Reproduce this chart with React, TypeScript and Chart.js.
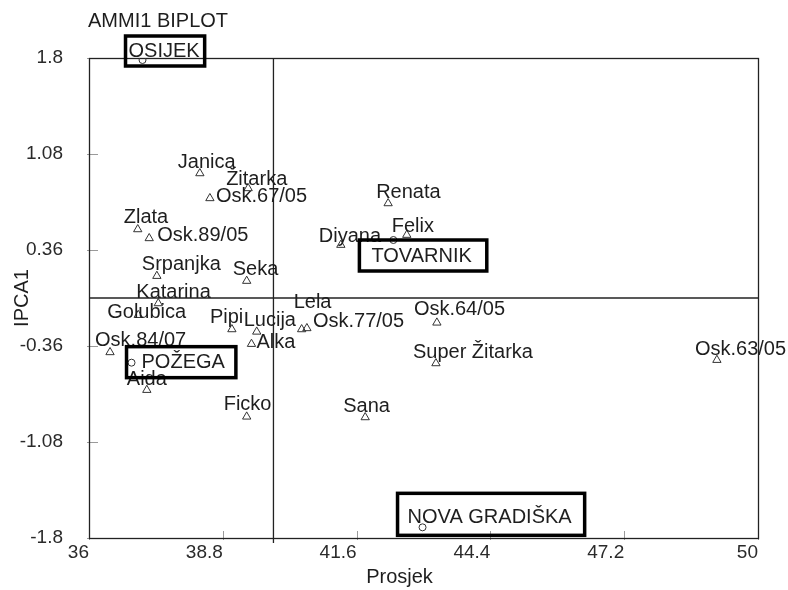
import React, { useEffect, useRef } from "react";
import { Chart, registerables } from "chart.js";

Chart.register(...registerables);

// ---------- data ----------
const TITLE = "AMMI1 BIPLOT";
const X_TITLE = "Prosjek";
const Y_TITLE = "IPCA1";
const X_TICKS = [36, 38.8, 41.6, 44.4, 47.2, 50];
const X_TICK_LABELS = ["36", "38.8", "41.6", "44.4", "47.2", "50"];
const Y_TICKS = [-1.8, -1.08, -0.36, 0.36, 1.08, 1.8];
const Y_TICK_LABELS = ["-1.8", "-1.08", "-0.36", "0.36", "1.08", "1.8"];

const GENOTYPES = [
  "Janica", "Žitarka", "Osk.67/05", "Zlata", "Osk.89/05", "Diyana", "Srpanjka", "Seka",
  "Renata", "Felix", "Katarina", "Golubica", "Osk.84/07", "Aida", "Pipi", "Lucija",
  "Alka", "Lela", "Osk.77/05", "Ficko", "Sana", "Osk.64/05", "Super Žitarka", "Osk.63/05",
];
const GENOTYPE_MEAN = [
  38.32, 39.33, 38.53, 37.02, 37.26, 41.27, 37.42, 39.30,
  42.26, 42.65, 37.45, 37.03, 36.44, 37.21, 38.99, 39.51,
  39.40, 40.45, 40.56, 39.30, 41.78, 43.28, 43.26, 49.14,
];
const GENOTYPE_IPCA1 = [
  0.935, 0.823, 0.748, 0.515, 0.448, 0.398, 0.165, 0.128,
  0.710, 0.473, -0.040, -0.128, -0.407, -0.690, -0.235, -0.253,
  -0.345, -0.235, -0.227, -0.890, -0.895, -0.185, -0.490, -0.465,
];

const ENVIRONMENTS = ["OSIJEK", "TOVARNIK", "POŽEGA", "NOVA GRADIŠKA"];
const ENV_MEAN = [37.12, 42.37, 36.89, 42.98];
const ENV_IPCA1 = [1.785, 0.435, -0.485, -1.72];

const GRAND_MEAN = 39.86;
const AXIS_MIN_X = 36, AXIS_MAX_X = 50, AXIS_MIN_Y = -1.8, AXIS_MAX_Y = 1.8;

// ---------- label layout (pixel offsets from marker centre to text left / baseline) ----------
const GENO_LABEL_OFFSET: Record<string, [number, number]> = {
  "Janica": [-22, -5], "Žitarka": [-22, -3], "Osk.67/05": [6, 4], "Zlata": [-14, -6],
  "Osk.89/05": [8, 3], "Diyana": [-22, -3], "Srpanjka": [-15, -6], "Seka": [-14, -6],
  "Renata": [-12, -5], "Felix": [-15, -3], "Katarina": [-22, -5], "Golubica": [-31, 3],
  "Osk.84/07": [-15, -6], "Aida": [-20, -5], "Pipi": [-22, -6], "Lucija": [-13, -6],
  "Alka": [5, 4], "Lela": [-8, -21], "Osk.77/05": [6, -1], "Ficko": [-23, -7],
  "Sana": [-22, -5], "Osk.64/05": [-23, -8], "Super Žitarka": [-23, -5], "Osk.63/05": [-22, -5],
};
// text offset [dx, dy] and box padding [left, right, above baseline, below baseline]
const ENV_LABEL_LAYOUT: Record<string, { text: [number, number]; pad: [number, number, number, number] }> = {
  "OSIJEK": { text: [-14, -3], pad: [3, 5, 21, 9] },
  "TOVARNIK": { text: [-22, 22], pad: [12, 15, 22, 9] },
  "POŽEGA": { text: [10, 5], pad: [15, 11, 21, 10] },
  "NOVA GRADIŠKA": { text: [-15, -4], pad: [10, 13, 30, 12] },
};

const FONT = '"Liberation Sans", Arial, sans-serif';
const TEXT_COLOR = "#1e1e1e";

const annotatePlugin = {
  id: "annotate",
  beforeDatasetsDraw(chart: any) {
    const { ctx, chartArea: a, scales } = chart;
    ctx.save();
    // faint inward tick marks
    ctx.strokeStyle = "#9a9a9a";
    ctx.lineWidth = 1;
    for (const v of Y_TICKS) {
      const y = Math.round(scales.y.getPixelForValue(v)) + 0.5;
      ctx.beginPath();
      ctx.moveTo(a.left - 2, y);
      ctx.lineTo(a.left + 9, y);
      ctx.stroke();
    }
    for (const v of X_TICKS) {
      const x = Math.round(scales.x.getPixelForValue(v)) + 0.5;
      ctx.beginPath();
      ctx.moveTo(x, a.bottom + 2);
      ctx.lineTo(x, a.bottom - 7);
      ctx.stroke();
    }
    // frame
    ctx.strokeStyle = "#222";
    ctx.lineWidth = 1.3;
    ctx.strokeRect(Math.round(a.left) + 0.5, Math.round(a.top) + 0.5, Math.round(a.right - a.left), Math.round(a.bottom - a.top));
    // small extension of the mean line below the axis
    const mx = scales.x.getPixelForValue(GRAND_MEAN);
    ctx.beginPath();
    ctx.moveTo(mx, a.bottom);
    ctx.lineTo(mx, a.bottom + 5);
    ctx.stroke();
    ctx.restore();
  },
  afterDatasetsDraw(chart: any) {
    const { ctx, scales } = chart;
    ctx.save();
    ctx.fillStyle = TEXT_COLOR;
    ctx.textBaseline = "alphabetic";
    ctx.textAlign = "left";
    ctx.font = `20px ${FONT}`;
    GENOTYPES.forEach((name, i) => {
      const px = scales.x.getPixelForValue(GENOTYPE_MEAN[i]);
      const py = scales.y.getPixelForValue(GENOTYPE_IPCA1[i]);
      const [dx, dy] = GENO_LABEL_OFFSET[name] || [-20, -5];
      ctx.fillText(name, px + dx, py + dy);
    });
    ENVIRONMENTS.forEach((name, i) => {
      const px = scales.x.getPixelForValue(ENV_MEAN[i]);
      const py = scales.y.getPixelForValue(ENV_IPCA1[i]);
      const lay = ENV_LABEL_LAYOUT[name];
      const tx = px + lay.text[0];
      const ty = py + lay.text[1];
      const w = ctx.measureText(name).width;
      const [pl, pr, pt, pb] = lay.pad;
      ctx.strokeStyle = "#000";
      ctx.lineWidth = 3.5;
      ctx.strokeRect(tx - pl, ty - pt, w + pl + pr, pt + pb);
      ctx.fillStyle = TEXT_COLOR;
      ctx.fillText(name, tx, ty);
    });
    ctx.restore();
  },
  afterDraw(chart: any) {
    const { ctx, chartArea: a } = chart;
    ctx.save();
    ctx.fillStyle = TEXT_COLOR;
    ctx.font = `20px ${FONT}`;
    ctx.textAlign = "left";
    ctx.textBaseline = "alphabetic";
    ctx.fillText(TITLE, a.left - 1, 27);
    ctx.textAlign = "center";
    ctx.fillText(X_TITLE, (a.left + a.right) / 2 - 24, 583);
    ctx.translate(28, (a.top + a.bottom) / 2);
    ctx.rotate(-Math.PI / 2);
    ctx.fillText(Y_TITLE, 0, 0);
    ctx.restore();
  },
};

export default function App() {
  const ref = useRef<HTMLCanvasElement | null>(null);
  useEffect(() => {
    if (!ref.current) return;
    const chart = new Chart(ref.current, {
      type: "scatter",
      data: {
        datasets: [
          {
            label: "mean line",
            data: [{ x: GRAND_MEAN, y: AXIS_MIN_Y }, { x: GRAND_MEAN, y: AXIS_MAX_Y }],
            showLine: true,
            borderColor: "#222",
            borderWidth: 1.3,
            pointRadius: 0,
          },
          {
            label: "zero line",
            data: [{ x: AXIS_MIN_X, y: 0 }, { x: AXIS_MAX_X, y: 0 }],
            showLine: true,
            borderColor: "#222",
            borderWidth: 1.3,
            pointRadius: 0,
          },
          {
            label: "Genotypes",
            data: GENOTYPES.map((_, i) => ({ x: GENOTYPE_MEAN[i], y: GENOTYPE_IPCA1[i] })),
            pointStyle: "triangle",
            pointRadius: 4.8,
            borderColor: "#333",
            borderWidth: 1,
            backgroundColor: "rgba(255,255,255,0)",
          },
          {
            label: "Environments",
            data: ENVIRONMENTS.map((_, i) => ({ x: ENV_MEAN[i], y: ENV_IPCA1[i] })),
            pointStyle: "circle",
            pointRadius: 3.5,
            borderColor: "#333",
            borderWidth: 1,
            backgroundColor: "rgba(255,255,255,0)",
          },
        ],
      },
      options: {
        animation: false,
        responsive: false,
        devicePixelRatio: 1,
        events: [],
        layout: { padding: { left: 0, right: 30, top: 58, bottom: 0 } },
        plugins: { legend: { display: false }, tooltip: { enabled: false }, title: { display: false } },
        scales: {
          x: {
            type: "linear",
            min: AXIS_MIN_X,
            max: AXIS_MAX_X,
            afterBuildTicks: (s: any) => { s.ticks = X_TICKS.map((v) => ({ value: v })); },
            afterFit: (s: any) => { s.height = 52; },
            grid: { display: false, drawTicks: false },
            border: { display: false },
            ticks: {
              align: "end",
              padding: 3,
              color: "#2a2a2a",
              font: { family: FONT, size: 19 },
              maxRotation: 0,
              autoSkip: false,
              callback: (v: any) => X_TICK_LABELS[X_TICKS.indexOf(Number(v))] ?? "",
            },
          },
          y: {
            type: "linear",
            min: AXIS_MIN_Y,
            max: AXIS_MAX_Y,
            afterBuildTicks: (s: any) => { s.ticks = Y_TICKS.map((v) => ({ value: v })); },
            afterFit: (s: any) => { s.width = 89; },
            grid: { display: false, drawTicks: false },
            border: { display: false },
            ticks: {
              padding: 26,
              color: "#2a2a2a",
              font: { family: FONT, size: 19 },
              autoSkip: false,
              callback: (v: any) => Y_TICK_LABELS[Y_TICKS.indexOf(Number(v))] ?? "",
            },
          },
        },
      },
      plugins: [annotatePlugin],
    } as any);
    return () => chart.destroy();
  }, []);
  return (
    <div style={{ position: "absolute", left: 0, top: 0, width: 788, height: 590, background: "#fff" }}>
      <canvas ref={ref} width={788} height={590} />
    </div>
  );
}
